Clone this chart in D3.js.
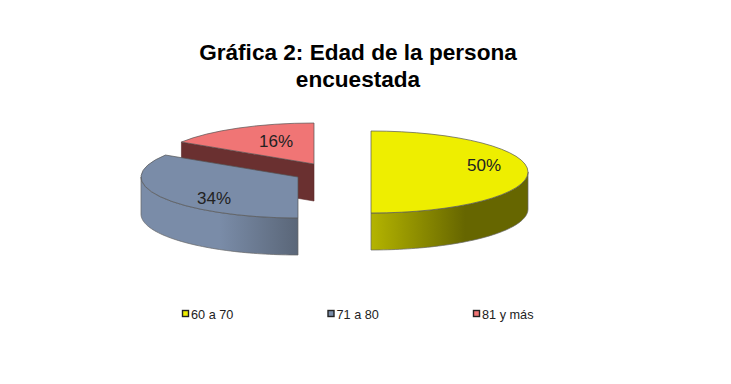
<!DOCTYPE html>
<html lang="es">
<head>
    <meta charset="UTF-8">
    <title>Gráfica 2</title>
    <script src="https://d3js.org/d3.v7.min.js"></script>
    <style>
        html, body { margin: 0; padding: 0; background: #fff; }
        svg { display: block; font-family: "Liberation Sans", Arial, sans-serif; }
    </style>
</head>
<body>
<svg id="canvas" width="731" height="384"></svg>
<script>
    // data
    const categories = ["60 a 70", "71 a 80", "81 y más"];
    const values = [50, 34, 16];
    const titleLines = ["Gráfica 2: Edad de la persona", "encuestada"];

    const topColors = ["#eeee00", "#7a8ca8", "#f07575"];
    const sideLight = ["#b4b400", "#7a8ca8", "#6a3030"];
    const sideDark = ["#666600", "#5a6678", "#6a3030"];

    const svg = d3.select("#canvas");
    const defs = svg.append("defs");

    const rx = 157, ry = 41, depth = 37;
    // each slice is pulled away from the others, so each has its own centre
    const centers = [[371, 172], [298, 177], [314, 164]];
    const labelPos = [[484, 171], [214, 204], [276, 147]];

    const pie = d3.pie().sort(null).value(d => d);
    const slices = pie(values);

    const arc = d3.arc().innerRadius(0).outerRadius(rx);

    function ellipsePoint(a, dy) {
        return [rx * Math.sin(a), -ry * Math.cos(a) + dy];
    }

    // outer wall between two angles
    function wallPath(a0, a1) {
        let steps = d3.range(0, 61).map(i => a0 + (a1 - a0) * i / 60);
        let top = steps.map(a => ellipsePoint(a, 0));
        let bottom = steps.slice().reverse().map(a => ellipsePoint(a, depth));
        return d3.line()(top.concat(bottom)) + "Z";
    }

    // wall faces the viewer only between 90 and 270 degrees
    const visibleWall = [
        [Math.PI / 2, Math.PI],
        [Math.PI, Math.PI * 1.5],
        null
    ];

    // draw back to front: red, blue, yellow
    [2, 1, 0].forEach(function (i) {
        let d = slices[i];
        let g = svg.append("g").attr("transform", `translate(${centers[i]})`);

        if (i === 2) {
            // red cut face, seen through the gap
            let p = ellipsePoint(d.startAngle, 0);
            let face = [[0, 0], p, [p[0], p[1] + depth], [0, depth]];
            g.append("path")
                .attr("d", d3.line()(face) + "Z")
                .attr("fill", sideDark[i])
                .attr("stroke", "#5a2a2a")
                .attr("stroke-width", 0.6);
        }

        if (visibleWall[i]) {
            let id = "wall" + i;
            let grad = defs.append("linearGradient").attr("id", id);
            if (i === 0) {
                grad.append("stop").attr("offset", "0%").attr("stop-color", sideLight[i]);
                grad.append("stop").attr("offset", "60%").attr("stop-color", sideDark[i]);
                grad.append("stop").attr("offset", "100%").attr("stop-color", sideDark[i]);
            } else {
                grad.append("stop").attr("offset", "0%").attr("stop-color", sideLight[i]);
                grad.append("stop").attr("offset", "50%").attr("stop-color", sideLight[i]);
                grad.append("stop").attr("offset", "100%").attr("stop-color", sideDark[i]);
            }
            g.append("path")
                .attr("d", wallPath(visibleWall[i][0], visibleWall[i][1]))
                .attr("fill", `url(#${id})`)
                .attr("stroke", "#666")
                .attr("stroke-width", 0.7);
        }

        g.append("path")
            .attr("d", arc(d))
            .attr("transform", `scale(1,${ry / rx})`)
            .attr("fill", topColors[i])
            .attr("stroke", "#555")
            .attr("stroke-width", 0.7)
            .attr("vector-effect", "non-scaling-stroke");
    });

    // percentage labels
    svg.selectAll("text.pct")
        .data(values)
        .enter().append("text")
        .attr("class", "pct")
        .attr("x", (d, i) => labelPos[i][0])
        .attr("y", (d, i) => labelPos[i][1])
        .attr("text-anchor", "middle")
        .attr("font-size", 17)
        .attr("fill", "#222")
        .text(d => d + "%");

    // title
    svg.selectAll("text.title")
        .data(titleLines)
        .enter().append("text")
        .attr("class", "title")
        .attr("x", 358)
        .attr("y", (d, i) => 60 + i * 27)
        .attr("text-anchor", "middle")
        .attr("font-size", 22.6)
        .attr("font-weight", "bold")
        .attr("fill", "#000")
        .text(d => d);

    // legend
    let legendX = d3.scalePoint().domain(categories).range([182, 473]);
    let legend = svg.selectAll("g.legend")
        .data(categories)
        .enter().append("g")
        .attr("class", "legend")
        .attr("transform", d => `translate(${legendX(d)},314)`);
    legend.append("rect")
        .attr("x", 0.5).attr("y", -3.5)
        .attr("width", 6).attr("height", 6)
        .attr("fill", (d, i) => topColors[i])
        .attr("stroke", "#222")
        .attr("stroke-width", 1.4);
    legend.append("text")
        .attr("x", 9)
        .attr("y", 4.5)
        .attr("font-size", 12.7)
        .attr("fill", "#222")
        .text(d => d);
</script>
</body>
</html>
